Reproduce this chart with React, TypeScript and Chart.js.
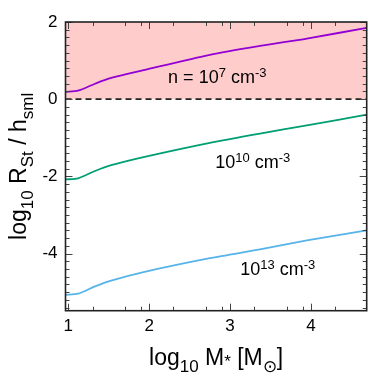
import React, { useEffect, useRef } from 'react';
import { Chart, registerables } from 'chart.js';

Chart.register(...registerables);

// ---- data ----
const massLog = [0.965, 1.12, 1.33, 1.53, 1.93, 2.75, 3.37, 3.95, 4.69];
const rN7 = [0.19, 0.22, 0.4, 0.55, 0.75, 1.15, 1.38, 1.57, 1.85];
const rN10 = [-2.08, -2.05, -1.86, -1.71, -1.5, -1.13, -0.89, -0.68, -0.4];
const rN13 = [-5.07, -5.04, -4.85, -4.7, -4.48, -4.12, -3.89, -3.66, -3.4];

const xRange = [0.965, 4.69];
const yRange = [-5.48, 2];
const xMajorTicks = [1, 2, 3, 4];
const xMinorTicks = [1.3, 1.7, 1.9, 2.3, 2.7, 2.9, 3.3, 3.7, 3.9, 4.3];
const yMajorTicks = [-4, -2, 0, 2];
const yMinorTicks = [
  -5.4, -5.2, -5.0, -4.8, -4.6, -4.4, -4.2, -3.8, -3.6, -3.4, -3.2, -3.0, -2.8, -2.6, -2.4, -2.2,
  -1.8, -1.6, -1.4, -1.2, -1.0, -0.8, -0.6, -0.4, -0.2, 0.2, 0.4, 0.6, 0.8, 1.0, 1.2, 1.4, 1.6, 1.8,
];
const thresholdY = 0;

type Part = { t: string; k?: 'sub' | 'sup' | 'star' };

const labelN7: Part[] = [{ t: 'n = 10' }, { t: '7', k: 'sup' }, { t: ' cm' }, { t: '-3', k: 'sup' }];
const labelN10: Part[] = [{ t: '10' }, { t: '10', k: 'sup' }, { t: ' cm' }, { t: '-3', k: 'sup' }];
const labelN13: Part[] = [{ t: '10' }, { t: '13', k: 'sup' }, { t: ' cm' }, { t: '-3', k: 'sup' }];
const annotPos = [
  { parts: labelN7, x: 2.234, y: 0.43 },
  { parts: labelN10, x: 2.816, y: -1.78 },
  { parts: labelN13, x: 3.125, y: -4.55 },
];
const xTitle: Part[] = [
  { t: 'log' }, { t: '10', k: 'sub' }, { t: ' M' }, { t: '*', k: 'star' }, { t: ' [M' }, { t: '\u2299', k: 'sub' }, { t: ']' },
];
const yTitle: Part[] = [
  { t: 'log' }, { t: '10', k: 'sub' }, { t: ' R' }, { t: 'St', k: 'sub' }, { t: ' / h' }, { t: 'sml', k: 'sub' },
];

const FAM = '"Liberation Sans", Arial, Helvetica, sans-serif';

function drawRich(
  ctx: CanvasRenderingContext2D,
  parts: Part[],
  x: number,
  y: number,
  size: number,
  subSize: number,
  align: 'left' | 'center',
) {
  const fontFor = (p: Part) => `${p.k ? subSize : size}px ${FAM}`;
  let total = 0;
  for (const p of parts) {
    ctx.font = fontFor(p);
    total += ctx.measureText(p.t).width;
  }
  let cx = align === 'center' ? x - total / 2 : x;
  ctx.textAlign = 'left';
  ctx.textBaseline = 'alphabetic';
  for (const p of parts) {
    ctx.font = fontFor(p);
    const dy = p.k === 'sub' ? size * 0.3 : p.k === 'sup' ? -size * 0.3 : p.k === 'star' ? 2 : 0;
    ctx.fillText(p.t, cx, y + dy);
    cx += ctx.measureText(p.t).width;
  }
}

const framePlugin = {
  id: 'frameTicks',
  afterDatasetsDraw(chart: any) {
    const { ctx, chartArea: a, scales } = chart;
    const xs = scales.x;
    const ys = scales.y;
    ctx.save();
    ctx.strokeStyle = '#444';
    ctx.lineWidth = 1;
    const major = 7;
    const minor = 4;
    const drawX = (v: number, len: number) => {
      const px = Math.round(xs.getPixelForValue(v)) + 0.5;
      ctx.beginPath();
      ctx.moveTo(px, a.bottom);
      ctx.lineTo(px, a.bottom - len);
      ctx.moveTo(px, a.top);
      ctx.lineTo(px, a.top + len);
      ctx.stroke();
    };
    const drawY = (v: number, len: number) => {
      const py = Math.round(ys.getPixelForValue(v)) + 0.5;
      ctx.beginPath();
      ctx.moveTo(a.left, py);
      ctx.lineTo(a.left + len, py);
      ctx.moveTo(a.right, py);
      ctx.lineTo(a.right - len, py);
      ctx.stroke();
    };
    xMinorTicks.forEach((v) => drawX(v, minor));
    xMajorTicks.forEach((v) => drawX(v, major));
    yMinorTicks.forEach((v) => drawY(v, minor));
    yMajorTicks.forEach((v) => drawY(v, major));
    ctx.strokeStyle = '#222';
    ctx.lineWidth = 1.6;
    ctx.strokeRect(a.left, a.top, a.right - a.left, a.bottom - a.top);

    ctx.fillStyle = '#000';
    for (const an of annotPos) {
      drawRich(ctx, an.parts, xs.getPixelForValue(an.x), ys.getPixelForValue(an.y), 18, 13, 'left');
    }
    drawRich(ctx, xTitle, (a.left + a.right) / 2, 365, 23, 17, 'center');
    ctx.save();
    ctx.translate(26, (a.top + a.bottom) / 2);
    ctx.rotate(-Math.PI / 2);
    drawRich(ctx, yTitle, 0, 0, 23, 17, 'center');
    ctx.restore();
    ctx.restore();
  },
};

export default function App() {
  const ref = useRef<HTMLCanvasElement | null>(null);
  useEffect(() => {
    if (!ref.current) return;
    const pts = (ys: number[]) => massLog.map((x, i) => ({ x, y: ys[i] }));
    const line = (ys: number[], color: string) =>
      ({
        data: pts(ys),
        showLine: true,
        borderColor: color,
        borderWidth: 1.8,
        pointRadius: 0,
        tension: 0.25,
        clip: 0,
      }) as any;
    const chart = new Chart(ref.current, {
      type: 'scatter',
      data: {
        datasets: [
          line(rN7, 'rgb(148,0,211)'),
          line(rN10, 'rgb(0,158,115)'),
          line(rN13, 'rgb(86,180,233)'),
          {
            data: [
              { x: xRange[0], y: thresholdY },
              { x: xRange[1], y: thresholdY },
            ],
            showLine: true,
            borderColor: '#222',
            borderWidth: 1.8,
            borderDash: [6, 4],
            pointRadius: 0,
            fill: 'end',
            backgroundColor: 'rgb(255,204,204)',
            clip: 0,
          } as any,
        ],
      },
      options: {
        responsive: false,
        animation: false,
        devicePixelRatio: 1,
        layout: { padding: { left: 0, top: 22, right: 15.3, bottom: 0 } },
        plugins: { legend: { display: false }, tooltip: { enabled: false } },
        scales: {
          x: {
            type: 'linear',
            min: xRange[0],
            max: xRange[1],
            afterBuildTicks: (s: any) => {
              s.ticks = xMajorTicks.map((v) => ({ value: v }));
            },
            afterFit: (s: any) => {
              s.height = 70.3;
            },
            ticks: {
              font: { family: FAM, size: 17 },
              color: '#000',
              padding: 5,
              maxRotation: 0,
              autoSkip: false,
              callback: (v: any) => String(v),
            },
            grid: { display: false, drawTicks: false },
            border: { display: false },
          },
          y: {
            type: 'linear',
            min: yRange[0],
            max: yRange[1],
            afterBuildTicks: (s: any) => {
              s.ticks = yMajorTicks.map((v) => ({ value: v }));
            },
            afterFit: (s: any) => {
              s.width = 65.5;
            },
            ticks: {
              font: { family: FAM, size: 17 },
              color: '#000',
              padding: 8,
              autoSkip: false,
              callback: (v: any) => String(v),
            },
            grid: { display: false, drawTicks: false },
            border: { display: false },
          },
        },
      },
      plugins: [framePlugin],
    });
    return () => chart.destroy();
  }, []);
  return (
    <div style={{ position: 'fixed', left: 0, top: 0, width: 382, height: 381, background: '#fff' }}>
      <canvas ref={ref} width={382} height={381} />
    </div>
  );
}
